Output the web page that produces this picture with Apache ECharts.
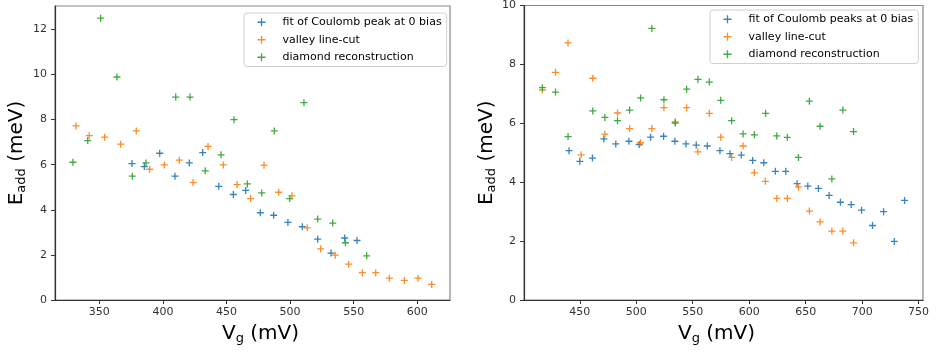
<!DOCTYPE html>
<html>
<head>
<meta charset="utf-8">
<script src="https://cdn.jsdelivr.net/npm/echarts@6/dist/echarts.min.js"></script>
<style>
  html, body { margin: 0; padding: 0; background: #fff; }
  #chart { width: 937px; height: 352px; }
</style>
</head>
<body>
<div id="chart"></div>
<script>
// left panel: [Vg (mV), Eadd (meV)]
const leftFit = [
  [375.7, 6.05], [385.4, 5.92], [397.5, 6.51], [409.5, 5.49], [420.8, 6.08], [431.3, 6.54],
  [443.9, 5.04], [455.4, 4.68], [465.1, 4.86], [476.6, 3.87], [487.1, 3.76], [498.3, 3.44],
  [509.6, 3.25], [521.7, 2.70], [532.2, 2.08], [542.9, 2.75], [552.6, 2.64]
];
const leftValley = [
  [331.7, 7.72], [342.1, 7.29], [354.2, 7.22], [366.8, 6.91], [379.1, 7.50], [389.6, 5.80],
  [401.1, 5.99], [412.9, 6.20], [423.7, 5.21], [435.5, 6.81], [447.5, 5.99], [458.3, 5.12],
  [469.0, 4.50], [479.5, 5.98], [491.0, 4.78], [501.5, 4.62], [513.5, 3.20], [524.0, 2.27],
  [535.5, 1.99], [546.0, 1.59], [556.8, 1.21], [567.3, 1.21], [578.0, 0.97], [589.8, 0.87],
  [600.6, 0.97], [611.3, 0.69]
];
const leftDiamond = [
  [329.3, 6.11], [340.9, 7.07], [351.1, 12.50], [363.9, 9.89], [376.0, 5.49], [386.7, 6.08],
  [410.1, 9.00], [421.3, 9.00], [433.3, 5.73], [445.7, 6.44], [455.9, 8.00], [466.4, 5.15],
  [477.7, 4.75], [487.6, 7.50], [499.7, 4.50], [510.9, 8.75], [521.7, 3.59], [533.5, 3.41],
  [543.5, 2.54], [560.2, 1.96]
];

// right panel
const rightFit = [
  [440.5, 5.07], [450.0, 4.71], [461.2, 4.82], [471.3, 5.47], [481.9, 5.30], [493.5, 5.39],
  [502.6, 5.28], [512.7, 5.53], [524.2, 5.56], [534.2, 5.39], [544.0, 5.30], [553.1, 5.26],
  [562.9, 5.23], [574.1, 5.07], [583.0, 4.97], [593.0, 4.92], [603.1, 4.74], [612.9, 4.66],
  [623.2, 4.37], [632.4, 4.37], [642.4, 3.95], [651.9, 3.87], [661.3, 3.79], [670.8, 3.55],
  [680.8, 3.32], [690.3, 3.24], [699.5, 3.05], [709.2, 2.53], [719.0, 3.00], [728.5, 1.99],
  [737.6, 3.38]
];
const rightValley = [
  [416.9, 7.13], [428.5, 7.73], [439.6, 8.73], [451.2, 4.93], [461.5, 7.53], [472.2, 5.63],
  [483.4, 6.35], [494.1, 5.82], [503.8, 5.34], [513.8, 5.82], [524.5, 6.53], [534.5, 6.05],
  [544.6, 6.53], [554.6, 5.03], [564.7, 6.34], [574.8, 5.53], [584.5, 4.84], [594.6, 5.23],
  [604.6, 4.32], [614.3, 4.03], [624.4, 3.45], [633.8, 3.45], [643.6, 3.84], [653.3, 3.02],
  [662.8, 2.65], [673.2, 2.34], [682.9, 2.34], [692.4, 1.94]
];
const rightDiamond = [
  [416.9, 7.21], [428.5, 7.06], [439.6, 5.55], [461.5, 6.42], [472.2, 6.20], [483.4, 6.09],
  [494.1, 6.45], [503.8, 6.86], [513.8, 9.22], [524.5, 6.80], [534.5, 6.01], [544.6, 7.16],
  [554.6, 7.49], [564.7, 7.40], [574.8, 6.78], [584.5, 6.09], [594.6, 5.64], [604.6, 5.61],
  [614.6, 6.34], [624.4, 5.57], [633.8, 5.52], [643.6, 4.84], [653.3, 6.75], [662.8, 5.90],
  [673.2, 4.11], [682.9, 6.45], [692.4, 5.72]
];

const leftXTicks = [350, 400, 450, 500, 550, 600];
const leftYTicks = [0, 2, 4, 6, 8, 10, 12];
const rightXTicks = [450, 500, 550, 600, 650, 700, 750];
const rightYTicks = [0, 2, 4, 6, 8, 10];

const leftNames = ['fit of Coulomb peak at 0 bias', 'valley line-cut', 'diamond reconstruction'];
const rightNames = ['fit of Coulomb peaks at 0 bias', 'valley line-cut', 'diamond reconstruction'];
const colors = ['#1f77b4', '#ff7f0e', '#2ca02c'];

const plus = 'path://M5,0L5,10M0,5L10,5';
const font = 'DejaVu Sans';

function xAxisOf(grid, min, max, ticks, shift) {
  return {
    type: 'value', gridIndex: grid, min: min, max: max,
    name: '{a|V}{s|g}{a| (mV)}', nameLocation: 'middle', nameGap: 22,
    nameTextStyle: {
      padding: shift,
      rich: {
        a: { fontFamily: font, fontSize: 20, color: '#000' },
        s: { fontFamily: font, fontSize: 13, color: '#000', padding: [10, 0, 0, 0] }
      }
    },
    axisLine: { lineStyle: { color: '#333', width: 1.2 } },
    axisTick: { customValues: ticks, length: 4, lineStyle: { color: '#333' } },
    axisLabel: { customValues: ticks, color: '#333', fontFamily: font, fontSize: 11, margin: 7 },
    splitLine: { show: false }
  };
}

function yAxisOf(grid, max, ticks, gap) {
  return {
    type: 'value', gridIndex: grid, min: 0, max: max,
    name: '{a|E}{s|add}{a| (meV)}', nameLocation: 'middle', nameGap: gap,
    nameTextStyle: {
      rich: {
        a: { fontFamily: font, fontSize: 20, color: '#000' },
        s: { fontFamily: font, fontSize: 13, color: '#000', padding: [10, 0, 0, 0] }
      }
    },
    axisLine: { lineStyle: { color: '#333', width: 1.2 } },
    axisTick: { customValues: ticks, length: 4, lineStyle: { color: '#333' } },
    axisLabel: { customValues: ticks, color: '#333', fontFamily: font, fontSize: 11, margin: 8 },
    splitLine: { show: false }
  };
}

function scatter(name, data, idx, color) {
  return {
    type: 'scatter', name: name, data: data,
    xAxisIndex: idx, yAxisIndex: idx,
    symbol: plus, symbolSize: 7,
    itemStyle: { color: 'none', borderColor: color, borderWidth: 1.3, opacity: 0.9 },
    emphasis: { disabled: true }
  };
}

function legendOf(names, left, top, right) {
  return {
    orient: 'vertical', left: left, top: top,
    data: names.map((n, i) => ({
      name: n, icon: plus,
      itemStyle: { color: 'none', borderColor: colors[i], borderWidth: 1.3 }
    })),
    itemWidth: 32, itemHeight: 8, itemGap: 1,
    padding: [1, right, 1, 11],
    borderColor: '#d0d0d0', borderWidth: 1, borderRadius: 3,
    backgroundColor: 'rgba(255,255,255,0.8)',
    selectedMode: false,
    textStyle: { fontFamily: font, fontSize: 11, color: '#000', lineHeight: 16.5 }
  };
}

const chart = echarts.init(document.getElementById('chart'), null, { renderer: 'canvas' });
chart.setOption({
  animation: false,
  grid: [
    { left: 55, top: 6, width: 395, height: 294, show: true, borderColor: '#888', borderWidth: 1.2 },
    { left: 524, top: 4, width: 399, height: 296, show: true, borderColor: '#888', borderWidth: 1.2 }
  ],
  xAxis: [
    xAxisOf(0, 315.2, 625.7, leftXTicks, [0, 0, 0, 16]),
    xAxisOf(1, 400.6, 753.9, rightXTicks, [0, 14, 0, 0])
  ],
  yAxis: [
    yAxisOf(0, 13.04, leftYTicks, 27),
    yAxisOf(1, 10, rightYTicks, 23)
  ],
  legend: [
    legendOf(leftNames, 244, 13, 5),
    legendOf(rightNames, 710, 10, 5)
  ],
  series: [
    scatter(leftNames[0], leftFit, 0, colors[0]),
    scatter(leftNames[1], leftValley, 0, colors[1]),
    scatter(leftNames[2], leftDiamond, 0, colors[2]),
    scatter(rightNames[0], rightFit, 1, colors[0]),
    scatter(rightNames[1], rightValley, 1, colors[1]),
    scatter(rightNames[2], rightDiamond, 1, colors[2])
  ]
});
</script>
</body>
</html>
